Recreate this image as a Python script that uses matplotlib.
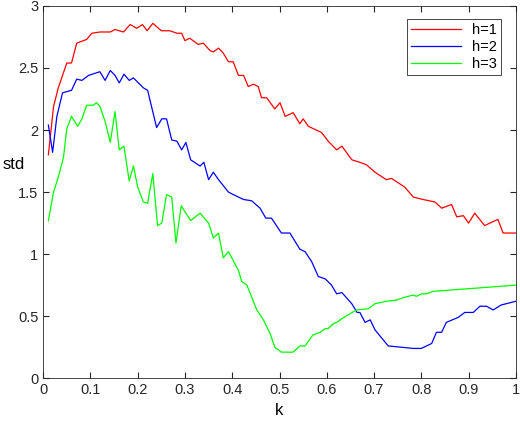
import matplotlib
matplotlib.use("Agg")
import matplotlib.pyplot as plt

plt.rcParams['font.family'] = ['Liberation Sans', 'DejaVu Sans']

k_red = [0.011,0.022,0.032,0.05,0.06,0.071,0.092,0.103,0.12,0.142,0.152,0.17,0.184,0.198,0.21,0.22,0.232,0.25,0.268,0.283,0.293,0.30,0.31,0.328,0.339,0.353,0.36,0.371,0.381,0.392,0.402,0.413,0.424,0.434,0.445,0.455,0.462,0.473,0.49,0.501,0.512,0.529,0.543,0.55,0.561,0.589,0.603,0.621,0.632,0.653,0.67,0.684,0.702,0.726,0.737,0.765,0.783,0.804,0.829,0.843,0.864,0.875,0.889,0.90,0.913,0.934,0.962,0.973,1.0]
v_red = [1.80,2.19,2.34,2.54,2.54,2.70,2.73,2.78,2.79,2.79,2.81,2.79,2.85,2.82,2.85,2.80,2.86,2.80,2.80,2.78,2.78,2.72,2.74,2.69,2.70,2.64,2.63,2.66,2.62,2.55,2.55,2.44,2.44,2.35,2.37,2.35,2.26,2.26,2.17,2.22,2.11,2.14,2.05,2.09,2.03,1.98,1.91,1.84,1.87,1.76,1.74,1.72,1.66,1.60,1.61,1.54,1.46,1.44,1.42,1.37,1.40,1.30,1.31,1.25,1.33,1.23,1.28,1.17,1.17]

k_blue = [0.011,0.02,0.029,0.041,0.06,0.071,0.082,0.096,0.12,0.131,0.142,0.152,0.161,0.171,0.182,0.191,0.212,0.221,0.24,0.251,0.261,0.272,0.283,0.293,0.302,0.312,0.332,0.34,0.35,0.36,0.371,0.392,0.402,0.424,0.441,0.459,0.471,0.483,0.504,0.522,0.543,0.554,0.568,0.582,0.597,0.61,0.621,0.632,0.653,0.664,0.67,0.681,0.692,0.702,0.73,0.783,0.80,0.822,0.832,0.843,0.853,0.878,0.892,0.91,0.924,0.938,0.952,0.969,1.0]
v_blue = [2.04,1.82,2.11,2.30,2.32,2.41,2.40,2.44,2.47,2.40,2.48,2.44,2.38,2.45,2.40,2.42,2.34,2.32,2.02,2.09,2.09,1.92,1.91,1.84,1.90,1.76,1.71,1.74,1.60,1.66,1.60,1.50,1.48,1.44,1.43,1.37,1.29,1.29,1.17,1.17,1.04,1.02,0.94,0.82,0.80,0.75,0.68,0.69,0.60,0.53,0.53,0.45,0.47,0.39,0.26,0.24,0.24,0.28,0.37,0.37,0.45,0.49,0.53,0.53,0.58,0.58,0.55,0.59,0.62]

k_green = [0.011,0.022,0.032,0.043,0.05,0.06,0.073,0.082,0.092,0.106,0.113,0.12,0.131,0.142,0.152,0.161,0.171,0.182,0.191,0.20,0.212,0.221,0.232,0.242,0.251,0.261,0.272,0.281,0.292,0.302,0.312,0.332,0.35,0.36,0.371,0.381,0.392,0.413,0.42,0.431,0.452,0.466,0.48,0.49,0.504,0.529,0.543,0.554,0.571,0.586,0.597,0.603,0.614,0.621,0.632,0.649,0.663,0.688,0.702,0.726,0.748,0.762,0.783,0.79,0.80,0.811,0.825,0.86,0.93,1.0]
v_green = [1.27,1.50,1.62,1.78,2.01,2.11,2.03,2.09,2.20,2.20,2.22,2.19,2.07,1.90,2.15,1.84,1.87,1.59,1.71,1.54,1.42,1.41,1.65,1.23,1.25,1.48,1.46,1.09,1.39,1.33,1.27,1.33,1.25,1.13,1.17,0.97,1.02,0.87,0.78,0.75,0.55,0.47,0.36,0.25,0.21,0.21,0.26,0.26,0.35,0.37,0.40,0.40,0.44,0.45,0.48,0.52,0.55,0.56,0.60,0.62,0.63,0.65,0.67,0.66,0.68,0.68,0.70,0.71,0.73,0.75]

fig = plt.figure(figsize=(5.2, 4.24), dpi=100)
ax = fig.add_axes([0.083, 0.108, 0.909, 0.878])
ax.plot(k_red, v_red, color='#ff0000', lw=0.9, label='h=1')
ax.plot(k_blue, v_blue, color='#0000ff', lw=0.9, label='h=2')
ax.plot(k_green, v_green, color='#00ff00', lw=0.9, label='h=3')
ax.set_xlim(0, 1)
ax.set_ylim(0, 3)
ax.set_xticks([i/10 for i in range(11)])
ax.set_xticklabels(['0','0.1','0.2','0.3','0.4','0.5','0.6','0.7','0.8','0.9','1'])
ax.set_yticks([0,0.5,1,1.5,2,2.5,3])
ax.set_yticklabels(['0','0.5','1','1.5','2','2.5','3'])
ax.tick_params(direction='in', top=True, right=True, labelsize=10.5, colors='#262626', length=4)
for s in ax.spines.values():
    s.set_color('#262626')
    s.set_linewidth(0.6)
ax.set_xlabel('k', fontsize=12)
ax.set_ylabel('std', fontsize=12, rotation=0, labelpad=-2)
ax.yaxis.set_label_coords(-0.062, 0.555)
leg = ax.legend(loc='upper right', fontsize=10.5, fancybox=False, framealpha=1,
                edgecolor='#262626', handlelength=3.4, borderpad=0.3, labelspacing=0.2,
                bbox_to_anchor=(0.985, 0.985))
leg.get_frame().set_linewidth(0.6)
fig.savefig('out.png', dpi=100)
